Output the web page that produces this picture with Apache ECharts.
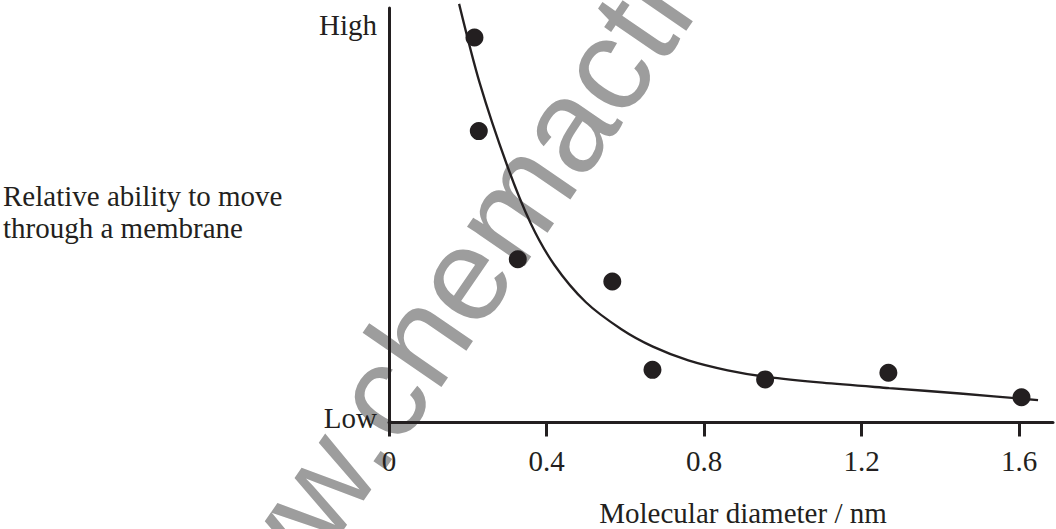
<!DOCTYPE html>
<html>
<head>
<meta charset="utf-8">
<script src="https://cdn.jsdelivr.net/npm/echarts@6/dist/echarts.min.js"></script>
<style>
  html, body { margin: 0; padding: 0; background: #fff; }
  #chart { width: 1056px; height: 529px; }
</style>
</head>
<body>
<div id="chart"></div>
<script>
// measured points: molecular diameter (nm) vs relative ability (0 = low, 100 = high)
const pointX = [0.217, 0.228, 0.327, 0.567, 0.669, 0.955, 1.268, 1.606];
const pointY = [92.9, 70.3, 39.4, 34.0, 12.7, 10.4, 12.0, 6.1];

// hand-drawn trend curve
const curveX = [0.178, 0.23, 0.30, 0.36, 0.42, 0.50, 0.59, 0.67, 0.76, 0.86, 0.96, 1.10, 1.27, 1.45, 1.648];
const curveY = [101, 82, 62, 48, 38, 29, 22.5, 18.3, 15, 12.6, 11, 9.6, 8.3, 7, 5.4];

const xTicks = [0, 0.4, 0.8, 1.2, 1.6];
const yTicks = [1, 96];
const yTickNames = ['Low', 'High'];

const ink = '#231f20';
const serif = "'Liberation Serif', 'Times New Roman', serif";

const chart = echarts.init(document.getElementById('chart'), null, { renderer: 'svg' });

chart.setOption({
  animation: false,
  backgroundColor: '#fff',
  grid: { left: 389, top: 8, right: 3, bottom: 106.5, containLabel: false },
  xAxis: {
    type: 'value',
    min: 0,
    max: 1.686,
    axisLine: { show: true, lineStyle: { color: ink, width: 3 } },
    axisTick: { show: true, customValues: xTicks, length: 14, lineStyle: { color: ink, width: 3 } },
    axisLabel: {
      customValues: xTicks,
      formatter: (v) => String(v),
      margin: 24,
      color: ink,
      fontFamily: serif,
      fontSize: 29,
    },
    splitLine: { show: false },
  },
  yAxis: {
    type: 'value',
    min: 0,
    max: 100,
    axisLine: { show: true, lineStyle: { color: ink, width: 3 } },
    axisTick: { show: false },
    axisLabel: {
      customValues: yTicks,
      formatter: (v) => yTickNames[yTicks.indexOf(v)],
      margin: 12,
      color: ink,
      fontFamily: serif,
      fontSize: 29,
    },
    splitLine: { show: false },
  },
  graphic: [
    {
      type: 'text',
      x: 183,
      y: 683,
      rotation: 0.969,
      z: 0,
      silent: true,
      style: {
        text: 'www.chemactive.com',
        x: 0,
        y: 0,
        fill: '#9d9d9d',
        font: "132px 'Liberation Sans', Arial, sans-serif",
        textAlign: 'left',
        textVerticalAlign: 'middle',
      },
    },
    {
      type: 'text',
      left: 3,
      top: 180,
      z: 10,
      style: {
        text: 'Relative ability to move\nthrough a membrane',
        fill: ink,
        font: "29px " + serif,
        lineHeight: 32,
      },
    },
    {
      type: 'text',
      x: 743,
      y: 513,
      z: 10,
      style: {
        text: 'Molecular diameter / nm',
        x: 0,
        y: 0,
        fill: ink,
        font: "29px " + serif,
        lineHeight: 29,
        textAlign: 'center',
        textVerticalAlign: 'middle',
      },
    },
  ],
  series: [
    {
      type: 'line',
      data: curveX.map((x, i) => [x, curveY[i]]),
      smooth: 0.3,
      showSymbol: false,
      clip: false,
      lineStyle: { color: ink, width: 2.3 },
      z: 3,
    },
    {
      type: 'scatter',
      data: pointX.map((x, i) => [x, pointY[i]]),
      symbol: 'circle',
      symbolSize: 18,
      itemStyle: { color: ink, opacity: 1 },
      z: 4,
    },
  ],
});
</script>
</body>
</html>
